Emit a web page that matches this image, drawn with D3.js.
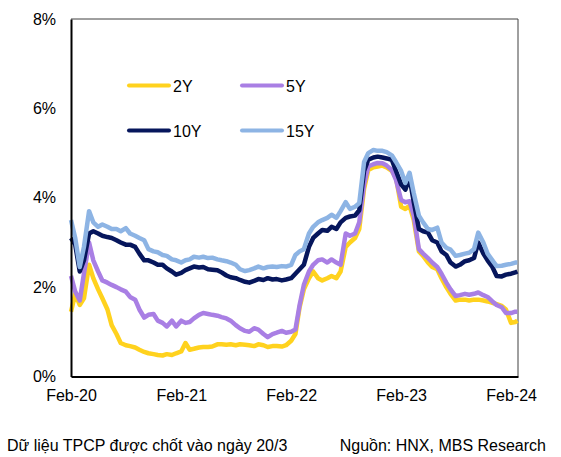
<!DOCTYPE html>
<html>
<head>
<meta charset="utf-8">
<script src="https://cdn.jsdelivr.net/npm/d3@7"></script>
<style>
  body { margin: 0; background: #fff; }
  text { font-family: "Liberation Sans", Arial, sans-serif; fill: #000; }
</style>
</head>
<body>
<div id="chart"></div>
<script>
// semi-monthly observation dates
const dates = [
  "2020-02-01","2020-02-15","2020-03-01","2020-03-15","2020-04-01","2020-04-15","2020-05-01","2020-05-15",
  "2020-06-01","2020-06-15","2020-07-01","2020-07-15","2020-08-01","2020-08-15","2020-09-01","2020-09-15",
  "2020-10-01","2020-10-15","2020-11-01","2020-11-15","2020-12-01","2020-12-15",
  "2021-01-01","2021-01-15","2021-02-01","2021-02-15","2021-03-01","2021-03-15","2021-04-01","2021-04-15",
  "2021-05-01","2021-05-15","2021-06-01","2021-06-15","2021-07-01","2021-07-15","2021-08-01","2021-08-15",
  "2021-09-01","2021-09-15","2021-10-01","2021-10-15","2021-11-01","2021-11-15","2021-12-01","2021-12-15",
  "2022-01-01","2022-01-15","2022-02-01","2022-02-15","2022-03-01","2022-03-15","2022-04-01","2022-04-15",
  "2022-05-01","2022-05-15","2022-06-01","2022-06-15","2022-07-01","2022-07-15","2022-08-01","2022-08-15",
  "2022-09-01","2022-09-15","2022-10-01","2022-10-15","2022-11-01","2022-11-15","2022-12-01","2022-12-15",
  "2023-01-01","2023-01-15","2023-02-01","2023-02-15","2023-03-01","2023-03-15","2023-04-01","2023-04-15",
  "2023-05-01","2023-05-15","2023-06-01","2023-06-15","2023-07-01","2023-07-15","2023-08-01","2023-08-15",
  "2023-09-01","2023-09-15","2023-10-01","2023-10-15","2023-11-01","2023-11-15","2023-12-01","2023-12-15",
  "2024-01-01","2024-01-15","2024-02-01","2024-02-15","2024-02-22"
];

const y2 = [
  1.45,1.85,1.6,1.75,2.5,2.2,1.95,1.75,1.5,1.15,
  0.95,0.75,0.7,0.68,0.65,0.6,0.55,0.52,0.5,0.48,
  0.47,0.5,0.48,0.52,0.56,0.75,0.6,0.62,0.65,0.66,
  0.66,0.67,0.72,0.72,0.71,0.72,0.7,0.72,0.71,0.7,
  0.68,0.72,0.7,0.66,0.68,0.68,0.67,0.7,0.8,0.95,
  1.55,1.95,2.2,2.35,2.2,2.15,2.2,2.25,2.2,2.35,
  2.9,3.0,3.1,3.3,4.2,4.62,4.68,4.7,4.72,4.68,
  4.6,4.45,3.8,3.75,3.82,3.5,2.8,2.7,2.55,2.45,
  2.4,2.2,2.0,1.85,1.7,1.72,1.72,1.7,1.72,1.72,
  1.7,1.68,1.65,1.62,1.58,1.5,1.2,1.22,1.25
];

const y5 = [
  2.25,1.9,1.7,2.3,3.0,2.6,2.35,2.15,2.1,2.05,
  2.0,1.95,1.9,1.78,1.72,1.5,1.32,1.38,1.4,1.25,
  1.2,1.12,1.25,1.12,1.25,1.2,1.22,1.3,1.38,1.42,
  1.4,1.38,1.36,1.33,1.3,1.25,1.15,1.08,1.02,1.0,
  1.08,1.05,0.95,0.88,0.95,0.98,1.02,0.98,1.0,1.05,
  1.6,2.05,2.35,2.5,2.6,2.62,2.55,2.62,2.55,2.5,
  3.2,3.15,3.2,3.45,4.3,4.7,4.75,4.78,4.77,4.72,
  4.62,4.4,3.95,3.9,3.92,3.6,2.85,2.75,2.65,2.55,
  2.45,2.3,2.1,1.95,1.8,1.82,1.85,1.83,1.85,1.88,
  1.82,1.78,1.68,1.6,1.55,1.42,1.42,1.45,1.45
];

const y10 = [
  3.1,2.95,2.35,2.6,3.2,3.25,3.2,3.15,3.12,3.1,
  3.05,3.0,2.95,2.95,2.9,2.75,2.6,2.6,2.55,2.5,
  2.5,2.42,2.35,2.28,2.32,2.38,2.42,2.46,2.44,2.45,
  2.4,2.39,2.38,2.33,2.26,2.22,2.2,2.16,2.12,2.1,
  2.14,2.18,2.16,2.2,2.17,2.18,2.15,2.17,2.2,2.3,
  2.4,2.5,2.9,3.1,3.2,3.28,3.26,3.35,3.3,3.45,
  3.55,3.58,3.6,3.72,4.6,4.85,4.9,4.92,4.9,4.88,
  4.85,4.6,4.3,4.18,4.45,3.9,3.3,3.25,3.22,3.05,
  3.0,2.8,2.72,2.55,2.46,2.5,2.58,2.6,2.65,3.0,
  2.75,2.6,2.45,2.25,2.24,2.28,2.3,2.33,2.35
];

const y15 = [
  3.5,3.1,2.45,2.9,3.7,3.45,3.35,3.4,3.35,3.3,
  3.3,3.25,3.32,3.2,3.15,3.1,3.05,2.85,2.8,2.78,
  2.72,2.7,2.62,2.6,2.55,2.6,2.62,2.68,2.66,2.68,
  2.65,2.66,2.62,2.6,2.58,2.55,2.5,2.4,2.36,2.38,
  2.42,2.46,2.42,2.45,2.46,2.45,2.47,2.46,2.5,2.72,
  2.8,2.85,3.2,3.35,3.45,3.5,3.55,3.62,3.55,3.7,
  3.9,3.75,3.8,3.88,4.8,5.0,5.07,5.05,5.05,5.02,
  4.95,4.8,4.6,4.33,4.56,4.1,3.6,3.45,3.3,3.28,
  3.33,3.0,2.88,2.84,2.7,2.72,2.75,2.77,2.85,3.22,
  3.0,2.75,2.6,2.47,2.48,2.5,2.52,2.55,2.55
];

const seriesNames = ["2Y", "5Y", "10Y", "15Y"];
const seriesColors = ["#FFD21E", "#A97FE4", "#06165C", "#8DB4E4"];
const yTicks = [0, 2, 4, 6, 8];
const xTickDates = ["2020-02-01", "2021-02-01", "2022-02-01", "2023-02-01", "2024-02-01"];
const noteLeft = "Dữ liệu TPCP được chốt vào ngày 20/3";
const noteRight = "Nguồn: HNX, MBS Research";

const W = 561, H = 457;
const margin = { top: 19, right: 43, bottom: 80.5, left: 71 };
const width = W - margin.left - margin.right,
  height = H - margin.top - margin.bottom;

const parse = d3.timeParse("%Y-%m-%d");

const svg = d3
  .select("#chart")
  .append("svg")
  .attr("width", W)
  .attr("height", H);

const g = svg.append("g").attr("transform", `translate(${margin.left},${margin.top})`);

const x = d3
  .scaleTime()
  .domain([parse("2020-02-01"), parse("2024-02-24")])
  .range([0, width]);
const y = d3.scaleLinear().domain([0, 8]).range([height, 0]);

// top and right frame
g.append("path")
  .attr("d", `M0,0H${width}V${height}`)
  .attr("fill", "none")
  .attr("stroke", "#404040")
  .attr("stroke-width", 1);

const allSeries = [y2, y5, y10, y15];
const line = d3
  .line()
  .x((d, i) => x(parse(dates[i])))
  .y((d) => y(d));

g.selectAll(".series")
  .data(allSeries)
  .join("path")
  .attr("class", "series")
  .attr("fill", "none")
  .attr("stroke", (d, i) => seriesColors[i])
  .attr("stroke-width", 4.5)
  .attr("stroke-linejoin", "round")
  .attr("d", line);

// axes
const yAxis = g
  .append("g")
  .call(d3.axisLeft(y).tickValues(yTicks).tickSize(0).tickSizeOuter(0).tickPadding(15).tickFormat((d) => d + "%"));
yAxis.select(".domain").attr("stroke", "#000").attr("stroke-width", 2);
yAxis.selectAll("text").style("font-size", "16px").attr("font-family", null);

const xAxis = g
  .append("g")
  .attr("transform", `translate(0,${height})`)
  .call(
    d3.axisBottom(x)
      .tickValues(xTickDates.map(parse))
      .tickSize(0)
      .tickSizeOuter(0)
      .tickPadding(13)
      .tickFormat(d3.timeFormat("%b-%y"))
  );
xAxis.select(".domain").attr("stroke", "#000").attr("stroke-width", 2);
xAxis.selectAll("text").style("font-size", "16px").attr("font-family", null);

// legend, two columns
const legend = svg
  .selectAll(".legend")
  .data(seriesNames)
  .join("g")
  .attr("class", "legend")
  .attr("transform", (d, i) => `translate(${127 + (i % 2) * 113},${85.5 + Math.floor(i / 2) * 45})`);

legend
  .append("line")
  .attr("x1", 2)
  .attr("x2", 42)
  .attr("stroke", (d, i) => seriesColors[i])
  .attr("stroke-width", 4)
  .attr("stroke-linecap", "round");

legend
  .append("text")
  .attr("x", 46)
  .attr("y", 6)
  .style("font-size", "16px")
  .text((d) => d);

// notes
svg.append("text").attr("x", 7).attr("y", 451).style("font-size", "16px").text(noteLeft);
svg.append("text").attr("x", 546).attr("y", 451).attr("text-anchor", "end").style("font-size", "16px").text(noteRight);
</script>
</body>
</html>
